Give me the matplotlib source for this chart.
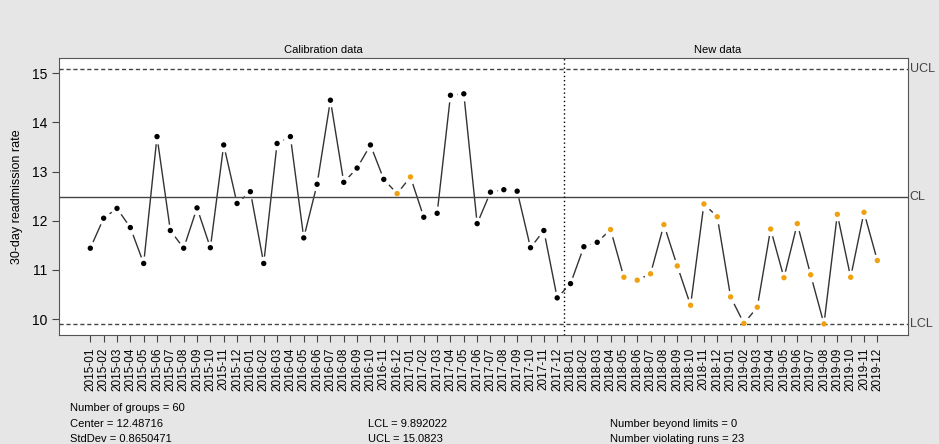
import numpy as np
import matplotlib.pyplot as plt

plt.rcParams['font.family'] = ['Liberation Sans', 'DejaVu Sans']

# monthly 30-day readmission rates, 2015-01 .. 2019-12
months = ['%d-%02d' % (y, m) for y in range(2015, 2020) for m in range(1, 13)]
rates = [11.44, 12.05, 12.25, 11.86, 11.13, 13.71, 11.80, 11.44, 12.26, 11.45, 13.54, 12.35,
         12.59, 11.13, 13.57, 13.71, 11.65, 12.74, 14.45, 12.78, 13.07, 13.54, 12.84, 12.55,
         12.89, 12.07, 12.15, 14.55, 14.58, 11.94, 12.58, 12.63, 12.60, 11.45, 11.80, 10.43,
         10.72, 11.47, 11.56, 11.82, 10.85, 10.79, 10.92, 11.92, 11.08, 10.28, 12.34, 12.08,
         10.45, 9.91, 10.24, 11.83, 10.84, 11.94, 10.90, 9.90, 12.13, 10.85, 12.17, 11.19]
n_calib = 36
violating = ['2016-12', '2017-01'] + months[39:]

center = 12.48716
stddev = 0.8650471
lcl = 9.892022
ucl = 15.0823
n_beyond = 0
n_runs = 23

x = np.arange(len(rates))
y = np.array(rates)
cols = ['#EFA10F' if m in violating else 'black' for m in months]

fig = plt.figure(figsize=(9.39, 4.44), dpi=100, facecolor='#E6E6E6')
ax = fig.add_axes([0.0628, 0.2455, 0.9042, 0.6235])
ax.set_facecolor('white')

# type = "b": line with gaps around points
ax.plot(x, y, color='#333333', lw=1, zorder=1)
ax.scatter(x, y, s=80, color='white', zorder=2)
ax.axhline(center, color='#444444', lw=1, zorder=3)
ax.axhline(ucl, color='#444444', lw=1, ls=(0, (3, 2)), zorder=3)
ax.axhline(lcl, color='#444444', lw=1, ls=(0, (3, 2)), zorder=3)
ax.axvline(n_calib - 0.5, color='black', lw=1, ls=(0, (1, 2)), zorder=3)
ax.scatter(x, y, s=15, c=cols, zorder=4, linewidths=0)

ax.set_xlim(-2.35, 61.3)
ax.set_ylim(9.675, 15.305)
ax.set_xticks(x)
ax.set_xticklabels(months, rotation=90, fontsize=8.5)
ax.set_yticks([10, 11, 12, 13, 14, 15])
ax.tick_params(axis='y', labelsize=10, length=5, color='#444444')
ax.tick_params(axis='x', length=5, color='#444444', pad=4)
for s in ax.spines.values():
    s.set_color('#555555')
ax.set_ylabel('30-day readmission rate', fontsize=9, labelpad=6)

tr = ax.get_yaxis_transform()
for val, lab in [(ucl, 'UCL'), (center, 'CL'), (lcl, 'LCL')]:
    ax.text(1.002, val, lab, transform=tr, va='center', ha='left', fontsize=9, color='#444444')

xt = ax.get_xaxis_transform()
ax.text((n_calib - 1) / 2, 1.01, 'Calibration data', transform=xt, ha='center', va='bottom', fontsize=8)
ax.text(47, 1.01, 'New data', transform=xt, ha='center', va='bottom', fontsize=8)

fs = 8
fig.text(70 / 939, 1 - 408 / 444, 'Number of groups = %d' % len(rates), fontsize=fs, va='center')
fig.text(70 / 939, 1 - 424 / 444, 'Center = %s' % center, fontsize=fs, va='center')
fig.text(70 / 939, 1 - 439 / 444, 'StdDev = %s' % stddev, fontsize=fs, va='center')
fig.text(368 / 939, 1 - 424 / 444, 'LCL = %s' % lcl, fontsize=fs, va='center')
fig.text(368 / 939, 1 - 439 / 444, 'UCL = %s' % ucl, fontsize=fs, va='center')
fig.text(610 / 939, 1 - 424 / 444, 'Number beyond limits = %d' % n_beyond, fontsize=fs, va='center')
fig.text(610 / 939, 1 - 439 / 444, 'Number violating runs = %d' % n_runs, fontsize=fs, va='center')

fig.savefig('out.png', dpi=100, facecolor=fig.get_facecolor())
